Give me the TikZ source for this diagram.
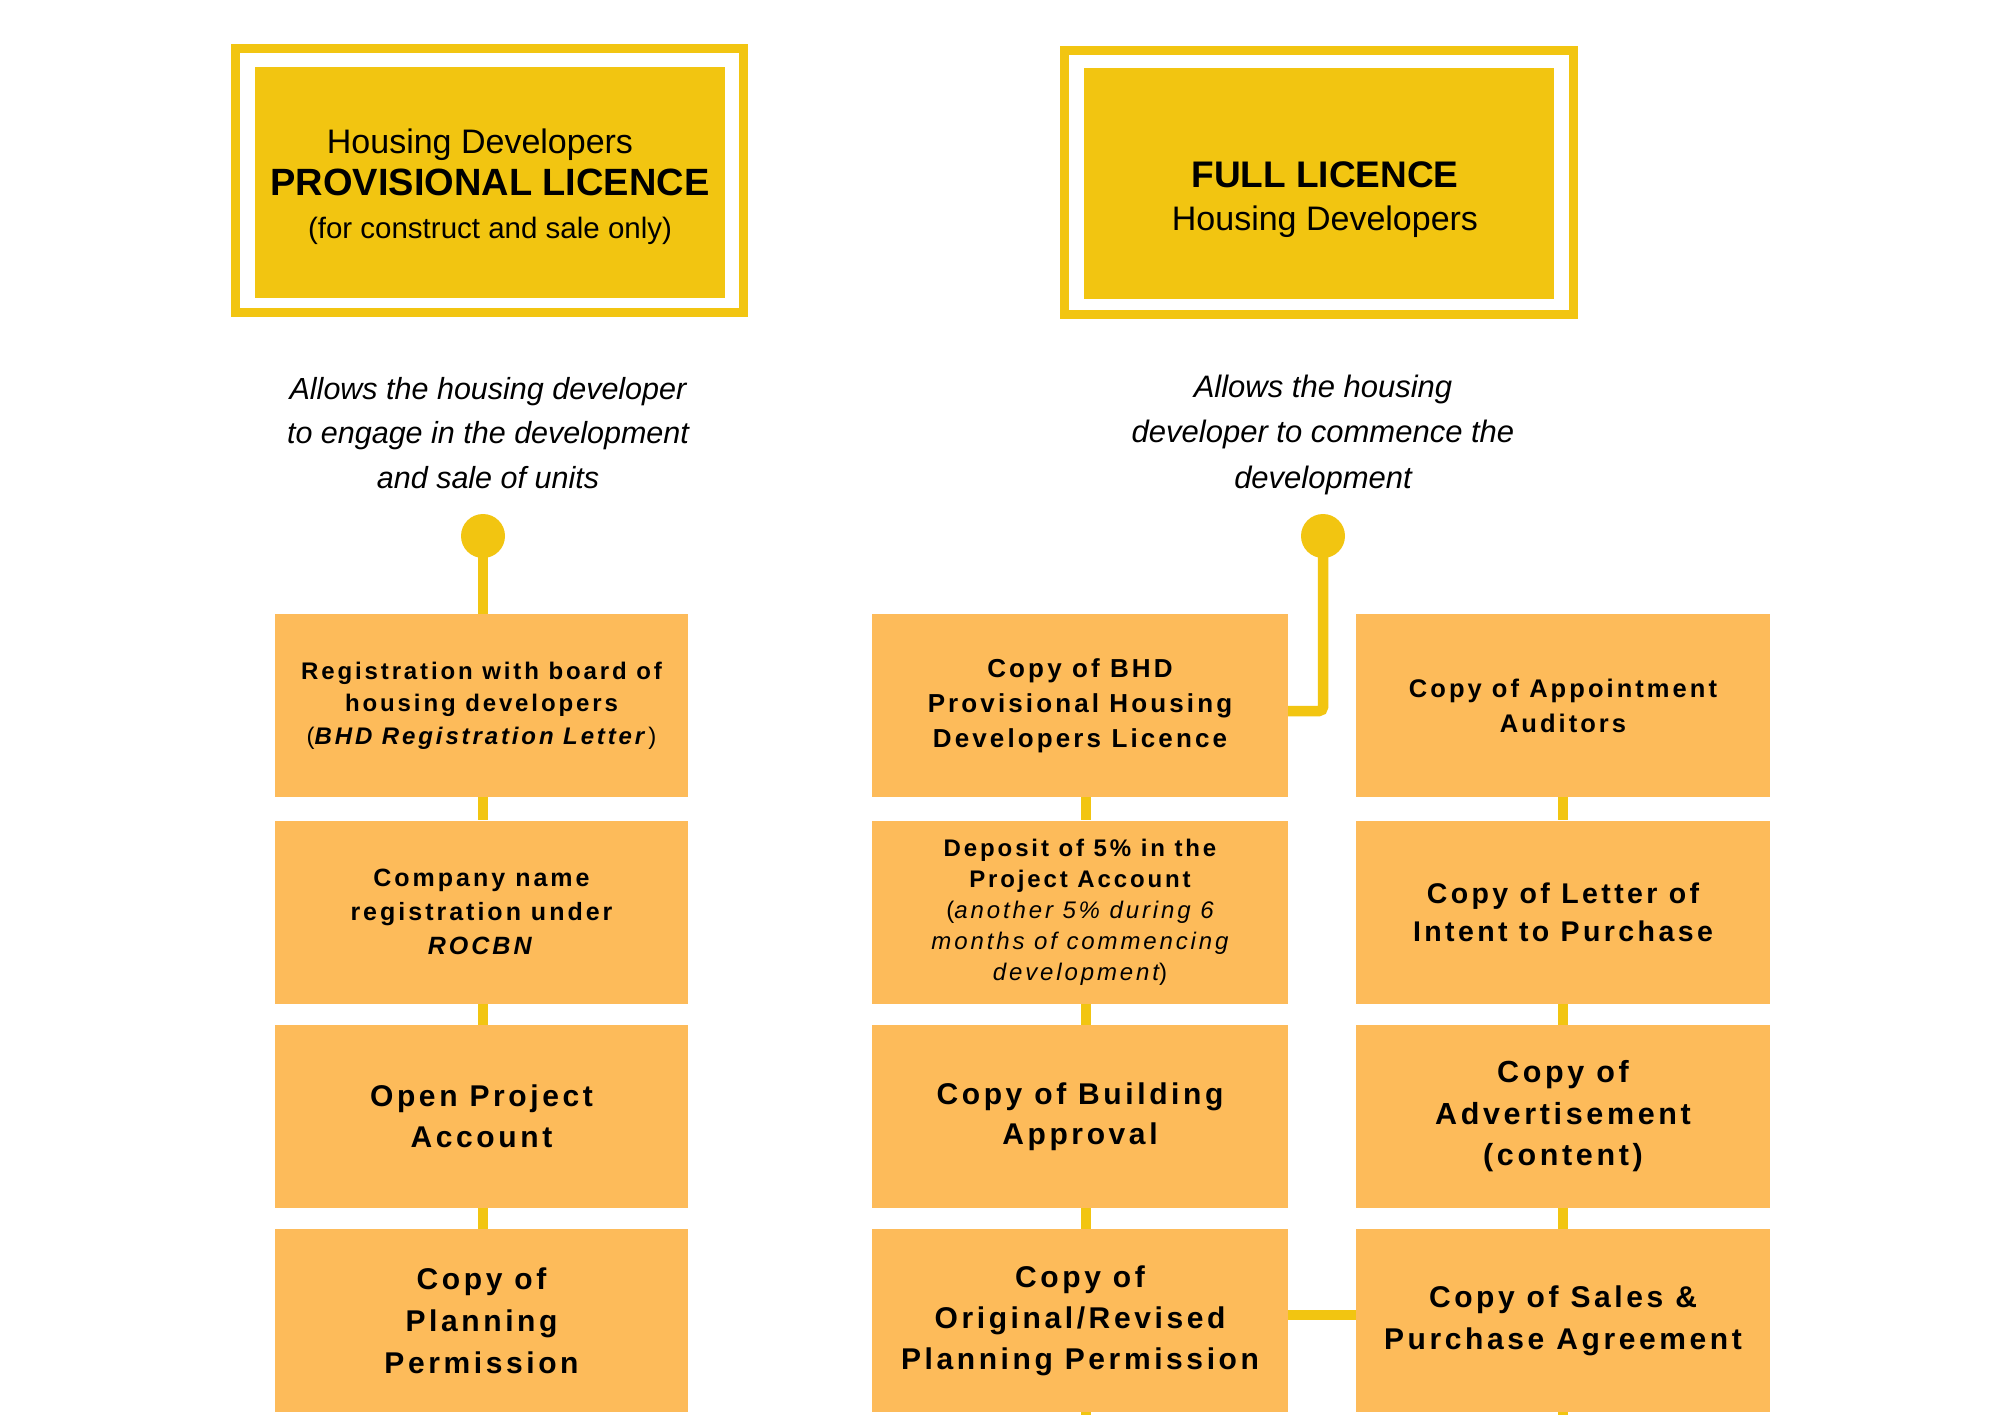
\documentclass[tikz,border=0pt]{standalone}
\usepackage{fontspec}
\setmainfont{Liberation Sans}
\newfontfamily\spaced[LetterSpace=12]{Liberation Sans}
\definecolor{gold}{HTML}{F2C511}
\definecolor{boxc}{HTML}{FDBB5A}
\pgfdeclarelayer{paper}
\pgfdeclarelayer{background}
\pgfsetlayers{paper,background,main}
\begin{document}
\begin{tikzpicture}[x=1pt,y=-1pt,
  frame/.style={draw=gold, line width=9pt, fill=white, inner sep=0pt},
  headfill/.style={fill=gold, inner sep=0pt, minimum width=470pt, minimum height=231pt},
  stepbox/.style={fill=boxc, inner sep=0pt, minimum height=183pt, align=center},
  lbox/.style={stepbox, minimum width=413pt},
  mbox/.style={stepbox, minimum width=416pt},
  rbox/.style={stepbox, minimum width=414pt},
  conn/.style={draw=gold, line width=10.5pt},
  dotc/.style={circle, fill=gold, minimum size=44pt, inner sep=0pt},
  desc/.style={anchor=base, inner sep=0pt, font=\fontsize{30.5}{36}\selectfont\itshape},
  ht/.style={anchor=base, inner sep=0pt}
]
\useasboundingbox (0,0) rectangle (2000,1414);
\begin{pgfonlayer}{paper}
\fill[white] (0,0) rectangle (2000,1414);
\end{pgfonlayer}

% ---------- headers ----------
\node[frame, minimum width=508pt, minimum height=264pt] (lframe) at (489.5,180.5) {};
\node[headfill] (lfill) at (489.5,182.5) {};
\node[ht, font=\fontsize{34}{40}\selectfont] (lt1) at (480,153) {Housing Developers};
\node[ht, font=\fontsize{38}{44}\selectfont\bfseries] (lt2) at (490,195) {PROVISIONAL LICENCE};
\node[ht, font=\fontsize{29.5}{34}\selectfont] (lt3) at (490,238) {(for construct and sale only)};

\node[frame, minimum width=509pt, minimum height=264pt] (rframe) at (1319,182.5) {};
\node[headfill] (rfill) at (1319,183.5) {};
\node[ht, font=\fontsize{37}{44}\selectfont\bfseries] (rt1) at (1325,187) {FULL LICENCE};
\node[ht, font=\fontsize{34}{40}\selectfont] (rt2) at (1325,230) {Housing Developers};

% ---------- descriptions ----------
\node[desc] (ld1) at (488,399) {Allows the housing developer};
\node[desc] (ld2) at (488,443) {to engage in the development};
\node[desc] (ld3) at (488,488) {and sale of units};
\node[desc, font=\fontsize{31}{36}\selectfont\itshape] (rd1) at (1323,397) {Allows the housing};
\node[desc, font=\fontsize{31}{36}\selectfont\itshape] (rd2) at (1323,442) {developer to commence the};
\node[desc, font=\fontsize{31}{36}\selectfont\itshape] (rd3) at (1323,488) {development};

% ---------- dots ----------
\node[dotc] (ldot) at (483,536) {};
\node[dotc] (rdot) at (1323,536) {};

% ---------- left column ----------
\node[lbox, font=\fontsize{24}{32.5}\selectfont\spaced\bfseries] (l1) at (481.5,705.5)
  {Registration with board of\\housing developers\\{\mdseries(}\textit{BHD Registration Letter}{\mdseries)}};
\node[lbox, font=\fontsize{25}{34}\selectfont\spaced\bfseries] (l2) at (481.5,912)
  {Company name\\registration under\\\textit{ROCBN}};
\node[lbox, font=\fontsize{30}{41}\selectfont\spaced\bfseries] (l3) at (481.5,1116.5)
  {Open Project\\Account};
\node[lbox, font=\fontsize{30}{42}\selectfont\spaced\bfseries] (l4) at (481.5,1320.5)
  {Copy of\\Planning\\Permission};

% ---------- middle column ----------
\node[mbox, font=\fontsize{26}{35}\selectfont\spaced\bfseries] (m1) at (1080,705.5)
  {Copy of BHD\\Provisional Housing\\Developers Licence};
\node[mbox, font=\fontsize{24}{31}\selectfont\spaced\bfseries] (m2) at (1080,912)
  {Deposit of 5\% in the\\Project Account\\{\mdseries(\itshape another 5\% during 6}\\{\mdseries\itshape months of commencing}\\{\mdseries\itshape development\upshape)}};
\node[mbox, font=\fontsize{30}{40}\selectfont\spaced\bfseries] (m3) at (1080,1116.5)
  {Copy of Building\\Approval};
\node[mbox, font=\fontsize{30}{41}\selectfont\spaced\bfseries] (m4) at (1080,1320.5)
  {Copy of\\Original/Revised\\Planning Permission};

% ---------- right column ----------
\node[rbox, font=\fontsize{25.5}{35}\selectfont\spaced\bfseries] (r1) at (1563,705.5)
  {Copy of Appointment\\Auditors};
\node[rbox, font=\fontsize{28.5}{38}\selectfont\spaced\bfseries] (r2) at (1563,912)
  {Copy of Letter of\\Intent to Purchase};
\node[rbox, font=\fontsize{30.5}{41.5}\selectfont\spaced\bfseries] (r3) at (1563,1116.5)
  {Copy of\\Advertisement\\(content)};
\node[rbox, font=\fontsize{30}{42}\selectfont\spaced\bfseries] (r4) at (1563,1320.5)
  {Copy of Sales \&\\Purchase Agreement};

\coordinate (mx) at (1086,0);

% ---------- connectors ----------
\begin{pgfonlayer}{background}
\draw[conn] (ldot.center) -- (ldot.center |- l1.north);
\draw[conn] (l1.south -| ldot) -- (l2.north -| ldot);
\draw[conn] (l2.south -| ldot) -- (l3.north -| ldot);
\draw[conn] (l3.south -| ldot) -- (l4.north -| ldot);

\draw[conn, rounded corners=4pt] (rdot.center) |- ([yshift=-5.5pt]m1.east);
\draw[conn] (m1.south -| mx) -- (m2.north -| mx);
\draw[conn] (m2.south -| mx) -- (m3.north -| mx);
\draw[conn] (m3.south -| mx) -- (m4.north -| mx);
\draw[conn] (m4.south -| mx) -- ++(0,4);

\draw[conn] (r1.south) -- (r2.north);
\draw[conn] (r2.south) -- (r3.north);
\draw[conn] (r3.south) -- (r4.north);
\draw[conn] (r4.south) -- ++(0,4);

\draw[conn] ([yshift=5.5pt]m4.east) -- ([yshift=5.5pt]m4.east -| r4.west);
\end{pgfonlayer}
\end{tikzpicture}
\end{document}
